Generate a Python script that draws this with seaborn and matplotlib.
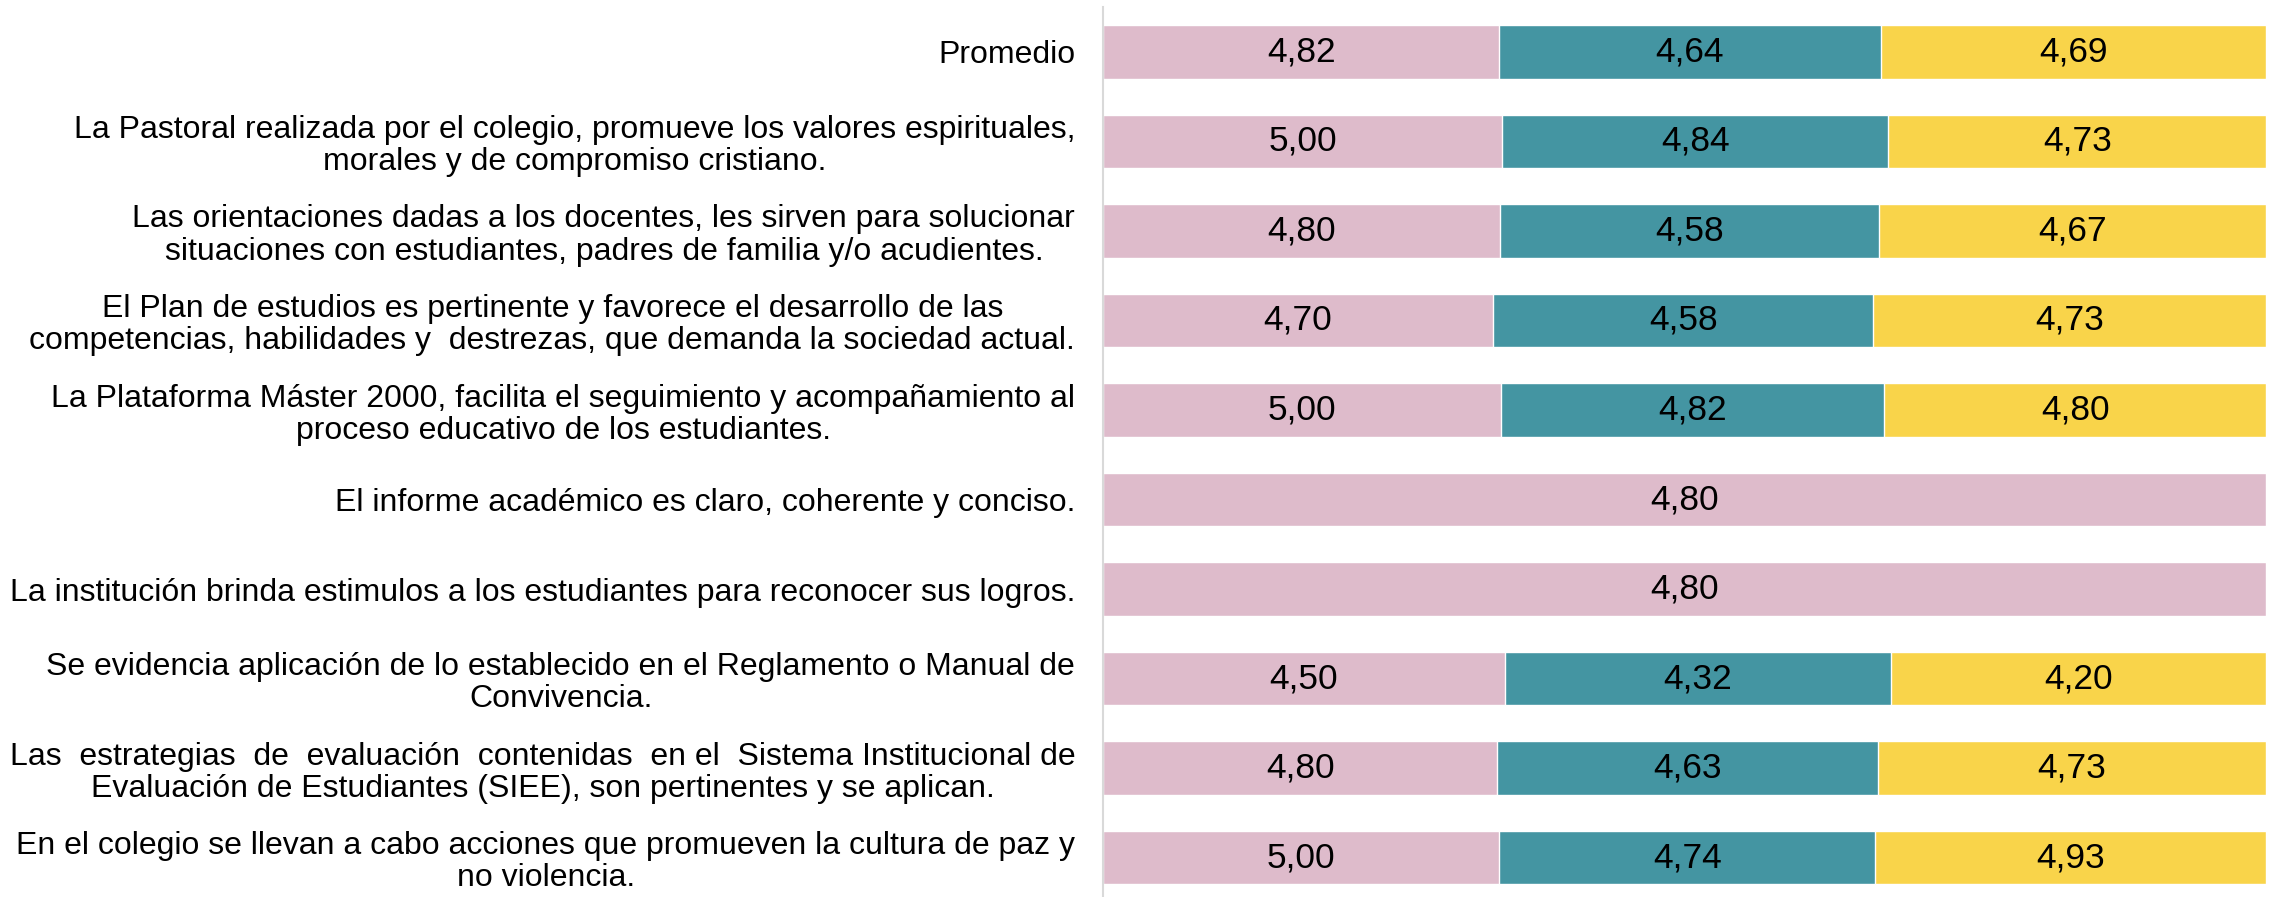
import matplotlib.pyplot as plt
import pandas as pd
import seaborn as sns

# Preguntas (de arriba hacia abajo)
preguntas = [
    'Promedio',
    'La Pastoral realizada por el colegio, promueve los valores espirituales,\nmorales y de compromiso cristiano.',
    'Las orientaciones dadas a los docentes, les sirven para solucionar\nsituaciones con estudiantes, padres de familia y/o acudientes.',
    'El Plan de estudios es pertinente y favorece el desarrollo de las\ncompetencias, habilidades y  destrezas, que demanda la sociedad actual.',
    'La Plataforma Máster 2000, facilita el seguimiento y acompañamiento al\nproceso educativo de los estudiantes.',
    'El informe académico es claro, coherente y conciso.',
    'La institución brinda estimulos a los estudiantes para reconocer sus logros.',
    'Se evidencia aplicación de lo establecido en el Reglamento o Manual de\nConvivencia.',
    'Las  estrategias  de  evaluación  contenidas  en el  Sistema Institucional de\nEvaluación de Estudiantes (SIEE), son pertinentes y se aplican.',
    'En el colegio se llevan a cabo acciones que promueven la cultura de paz y\nno violencia.',
]

serie_1 = [4.82, 5.00, 4.80, 4.70, 5.00, 4.80, 4.80, 4.50, 4.80, 5.00]
serie_2 = [4.64, 4.84, 4.58, 4.58, 4.82, 0, 0, 4.32, 4.63, 4.74]
serie_3 = [4.69, 4.73, 4.67, 4.73, 4.80, 0, 0, 4.20, 4.73, 4.93]

colores = ['#DEBBCB', '#4495A2', '#F9D44A']

df = pd.DataFrame({'Pregunta': preguntas, 's1': serie_1, 's2': serie_2, 's3': serie_3})
total = df['s1'] + df['s2'] + df['s3']
# 100% apilado: acumulados normalizados
df['c1'] = df['s1'] / total
df['c2'] = (df['s1'] + df['s2']) / total
df['c3'] = (df['s1'] + df['s2'] + df['s3']) / total

sns.set_theme(style='white')
plt.rcParams['font.family'] = ['Liberation Sans', 'DejaVu Sans']

fig = plt.figure(figsize=(22.77, 8.97), dpi=100)
ax = fig.add_axes([0.4844, 0.0, 0.5108, 0.992])

# se dibuja del total hacia adentro
for col, color in zip(['c3', 'c2', 'c1'], colores[::-1]):
    sns.barplot(data=df, x=col, y='Pregunta', color=color, saturation=1,
                width=0.6, edgecolor='white', linewidth=1, ax=ax)

# etiquetas de valores
for i in range(len(df)):
    inicio = 0
    for s in ['s1', 's2', 's3']:
        v = df[s].iloc[i]
        if v > 0:
            frac = v / total.iloc[i]
            ax.text(inicio + frac / 2, i, f'{v:.2f}'.replace('.', ','),
                    ha='center', va='center', fontsize=25.5, color='black')
            inicio += frac

ax.set_xlim(0, 1)
ax.set_ylim(9.44, -0.5)
ax.set_xlabel('')
ax.set_ylabel('')
ax.set_xticks([])
for lado in ['top', 'right', 'bottom']:
    ax.spines[lado].set_visible(False)
ax.spines['left'].set_color('#D9D9D9')
ax.spines['left'].set_linewidth(1.5)
ax.tick_params(axis='y', length=0, pad=20, labelsize=23, labelcolor='black')
for t in ax.get_yticklabels():
    t.set_multialignment('center')
    t.set_linespacing(1.1)

fig.savefig('out.png', dpi=100)
